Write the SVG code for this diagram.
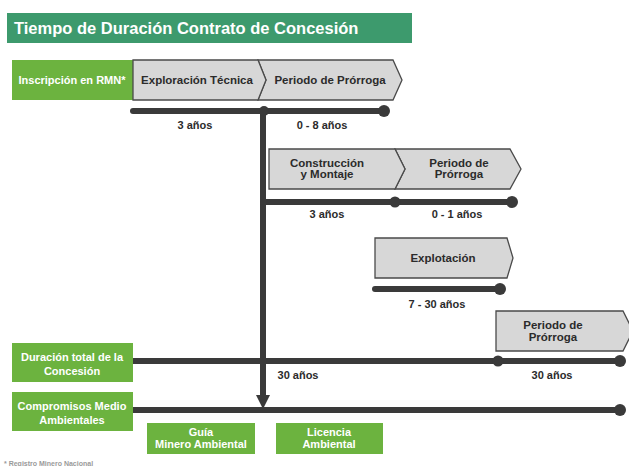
<svg xmlns="http://www.w3.org/2000/svg" width="629" height="466" viewBox="0 0 629 466">
<defs>
<style>
.t{font-family:"Liberation Sans",Arial,sans-serif;font-weight:bold;}
.lbl{font-size:11px;fill:#2b2b2b;text-anchor:middle;}
.gl{font-size:11.5px;}
.wt{font-size:11px;fill:#ffffff;text-anchor:middle;}
.grey{fill:#d7d7d7;stroke:#4a4a4a;stroke-width:1.3;stroke-linejoin:miter;}
.green{fill:#6cb33f;}
.line{stroke:#3a3a3a;stroke-width:6;stroke-linecap:round;fill:none;}
.dot{fill:#3a3a3a;}
</style>
</defs>
<rect width="629" height="466" fill="#ffffff"/>

<g id="title">
<rect x="7" y="13" width="405" height="30" fill="#3d9a6d"/>
<text class="t" x="14" y="34" font-size="16.5" fill="#ffffff">Tiempo de Duración Contrato de Concesión</text>
</g>

<g id="connectors">
<line class="line" x1="133" y1="111" x2="384" y2="111"/>
<line x1="263" y1="111" x2="263" y2="396" stroke="#3a3a3a" stroke-width="6"/>
<path d="M256,395 L270,395 L263,409 Z" fill="#3a3a3a"/>
<line class="line" x1="263" y1="202" x2="512" y2="202" stroke-linecap="butt"/>
<line class="line" x1="375" y1="289" x2="500" y2="289"/>
<line x1="133" y1="361" x2="620" y2="361" stroke="#3a3a3a" stroke-width="6"/>
<line x1="133" y1="410" x2="620" y2="410" stroke="#3a3a3a" stroke-width="6"/>
<circle class="dot" cx="264" cy="111" r="5"/>
<circle class="dot" cx="384" cy="111" r="6"/>
<circle class="dot" cx="395" cy="202" r="5.5"/>
<circle class="dot" cx="512" cy="202" r="6"/>
<circle class="dot" cx="500" cy="289" r="6"/>
<circle class="dot" cx="498" cy="361" r="5.5"/>
<circle class="dot" cx="620" cy="361" r="6"/>
<circle class="dot" cx="620" cy="410" r="6"/>
<text class="t lbl" x="195" y="129">3 años</text>
<text class="t lbl" x="322" y="129">0 - 8 años</text>
<text class="t lbl" x="327" y="218">3 años</text>
<text class="t lbl" x="457" y="218">0 - 1 años</text>
<text class="t lbl" x="437" y="308">7 - 30 años</text>
<text class="t lbl" x="298" y="379">30 años</text>
<text class="t lbl" x="552" y="379">30 años</text>
</g>

<g id="inscripcion">
<rect class="green" x="12" y="60" width="121" height="40"/>
<text class="t wt" x="72" y="84" font-size="10.8">Inscripción en RMN*</text>
</g>

<g id="prorroga1">
<polygon class="grey" points="258,60 393,60 402,80 393,100 258,100 266,80"/>
<text class="t lbl gl" x="330" y="84">Periodo de Prórroga</text>
</g>
<g id="exploracion">
<polygon class="grey" points="133,60 258,60 266,80 258,100 133,100"/>
<text class="t lbl gl" x="197" y="84">Exploración Técnica</text>
</g>

<g id="prorroga2">
<polygon class="grey" points="395,149 510,149 521,169 510,189 395,189 405,169"/>
<text class="t lbl gl" x="459" y="167">Periodo de</text>
<text class="t lbl gl" x="459" y="178">Prórroga</text>
</g>
<g id="construccion">
<polygon class="grey" points="269,149 395,149 405,169 395,189 269,189"/>
<text class="t lbl gl" x="327" y="167">Construcción</text>
<text class="t lbl gl" x="327" y="178">y Montaje</text>
</g>

<g id="explotacion">
<polygon class="grey" points="375,238 507,238 513,258 507,278 375,278"/>
<text class="t lbl gl" x="443" y="262">Explotación</text>
</g>

<g id="prorroga3">
<polygon class="grey" points="496,311 623,311 633,331 623,351 496,351"/>
<text class="t lbl gl" x="553" y="329">Periodo de</text>
<text class="t lbl gl" x="553" y="341">Prórroga</text>
</g>

<g id="duracion">
<rect class="green" x="12" y="343" width="121" height="39"/>
<text class="t wt" x="72" y="361">Duración total de la</text>
<text class="t wt" x="72" y="375">Concesión</text>
</g>

<g id="compromisos">
<rect class="green" x="12" y="392" width="121" height="39"/>
<text class="t wt" x="72" y="410">Compromisos Medio</text>
<text class="t wt" x="72" y="424">Ambientales</text>
</g>

<g id="guia">
<rect class="green" x="147" y="423" width="108" height="31"/>
<text class="t wt" x="201" y="436" font-size="10">Guía</text>
<text class="t wt" x="201" y="448" font-size="10">Minero Ambiental</text>
</g>

<g id="licencia">
<rect class="green" x="276" y="423" width="107" height="31"/>
<text class="t wt" x="329" y="436" font-size="10">Licencia</text>
<text class="t wt" x="329" y="448" font-size="10">Ambiental</text>
</g>

<text class="t" x="4" y="466" font-size="7" fill="#9a9a9a">* Registro Minero Nacional</text>
</svg>
